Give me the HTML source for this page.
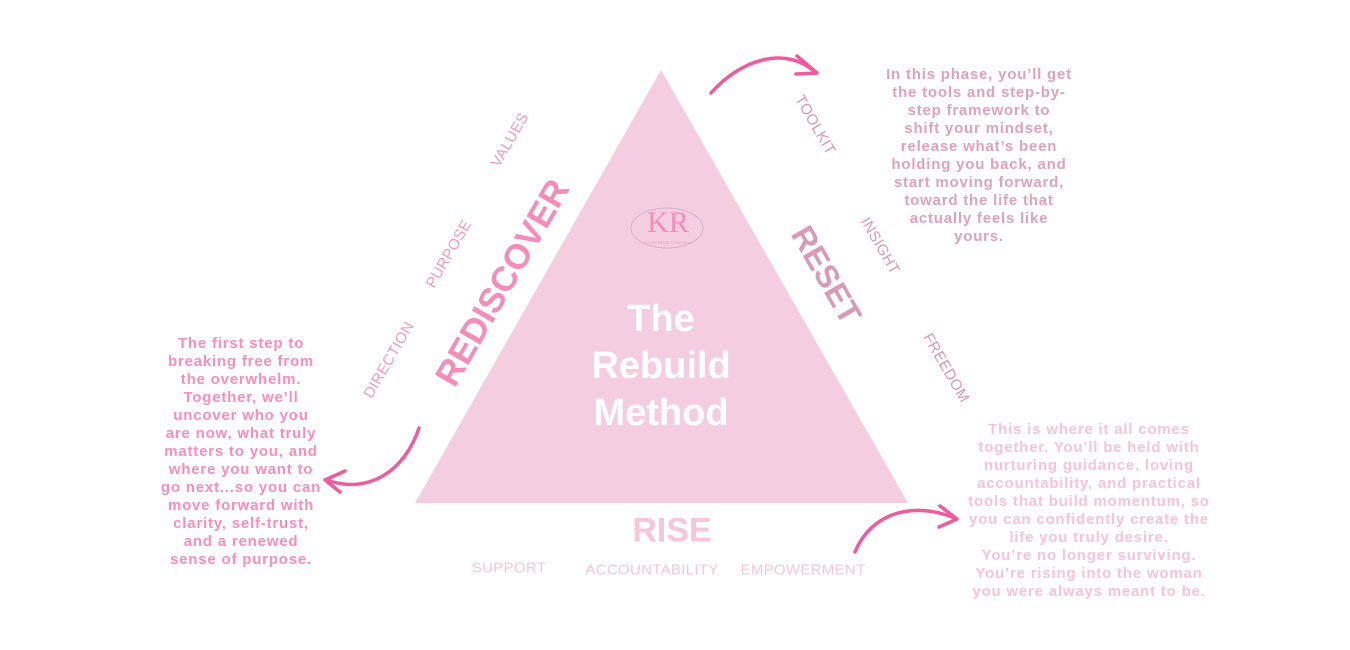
<!DOCTYPE html>
<html><head><meta charset="utf-8"><style>
body{margin:0;width:1350px;height:650px;background:#fff;position:relative;overflow:hidden;font-family:"Liberation Sans",sans-serif;}
.t{position:absolute;text-align:center;font-weight:bold;font-size:15px;line-height:18px;white-space:nowrap;transform:translateX(-50%);letter-spacing:0.8px;}
.r{position:absolute;white-space:nowrap;transform:translate(-50%,-50%) rotate(var(--a));}
.s{font-size:15px;letter-spacing:0.3px;}
</style></head><body>
<svg width="1350" height="650" style="position:absolute;left:0;top:0">
<polygon points="661,70 415,503 908,503" fill="#f5cde0"/>
<g fill="none" stroke="#f25a9e" stroke-width="3.5" stroke-linecap="round" stroke-linejoin="round">
<path d="M711,93 C740,60 785,45 815,72"/><path d="M797,56 L817,73 L796,74"/>
<path d="M419,428 C405,470 370,495 326,480"/><path d="M345,471 L325,480 L340,492"/>
<path d="M855,552 C870,515 910,500 955,518"/><path d="M940,506 L957,519 L939,527"/>
</g>
<g fill="none" stroke="#d9a6bb" stroke-width="0.8"><ellipse cx="667" cy="228" rx="36" ry="20"/></g>
<text x="668" y="232" text-anchor="middle" font-family="Liberation Serif,serif" font-size="30" fill="#f28cb8">KR</text>
<text x="668" y="244" text-anchor="middle" font-size="4" fill="#e5a0bd" font-family="Liberation Sans,sans-serif">KYLEE ROSE COACHING</text>
</svg>
<div class="t" style="left:661px;top:296px;font-size:38px;line-height:47px;color:#fff;letter-spacing:0;">The<br>Rebuild<br>Method</div>
<div class="r" style="--a:-60deg;left:503px;top:283px;font-size:35px;font-weight:bold;color:#f58cba;">REDISCOVER</div>
<div class="r" style="--a:60deg;left:826px;top:275px;font-size:32px;font-weight:bold;color:#d89ab6;">RESET</div>
<div class="r" style="--a:0deg;left:672px;top:531px;font-size:34px;font-weight:bold;color:#f6c6da;">RISE</div>
<div class="r s" style="--a:-60deg;left:510px;top:140px;color:#f29bc0;">VALUES</div>
<div class="r s" style="--a:-60deg;left:449px;top:254px;color:#f29bc0;">PURPOSE</div>
<div class="r s" style="--a:-60deg;left:389px;top:360px;color:#f29bc0;">DIRECTION</div>
<div class="r s" style="--a:60deg;left:815px;top:125px;color:#d89ab6;">TOOLKIT</div>
<div class="r s" style="--a:60deg;left:880px;top:246px;color:#d89ab6;">INSIGHT</div>
<div class="r s" style="--a:60deg;left:946px;top:368px;color:#d89ab6;">FREEDOM</div>
<div class="r s" style="--a:0deg;left:509px;top:568px;color:#f6c6da;">SUPPORT</div>
<div class="r s" style="--a:0deg;left:652px;top:570px;color:#f6c6da;">ACCOUNTABILITY</div>
<div class="r s" style="--a:0deg;left:803px;top:570px;color:#f6c6da;">EMPOWERMENT</div>
<div class="t" style="left:979px;top:66px;color:#dea2bb;">In this phase, you’ll get<br>the tools and step-by-<br>step framework to<br>shift your mindset,<br>release what’s been<br>holding you back, and<br>start moving forward,<br>toward the life that<br>actually feels like<br>yours.</div>
<div class="t" style="left:241px;top:335px;color:#f98dbd;">The first step to<br>breaking free from<br>the overwhelm.<br>Together, we’ll<br>uncover who you<br>are now, what truly<br>matters to you, and<br>where you want to<br>go next...so you can<br>move forward with<br>clarity, self-trust,<br>and a renewed<br>sense of purpose.</div>
<div class="t" style="left:1089px;top:421px;color:#f7c3d8;">This is where it all comes<br>together. You’ll be held with<br>nurturing guidance, loving<br>accountability, and practical<br>tools that build momentum, so<br>you can confidently create the<br>life you truly desire.<br>You’re no longer surviving.<br>You’re rising into the woman<br>you were always meant to be.</div>
</body></html>
